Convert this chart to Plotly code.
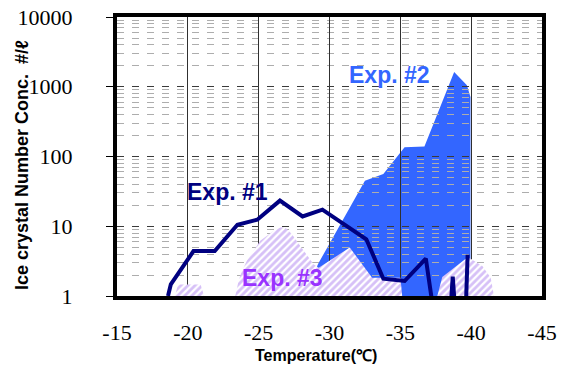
import plotly.graph_objects as go

# Temperature (deg C) and ice crystal number concentration (#/L)
temp_exp1 = [-18.6, -18.8, -20.4, -21.9, -23.5, -24.9, -26.5, -28.1, -29.5, -32.6,
             -33.8, -35.3, -36.8, -37.4, -38.5, -38.7, -38.9, -39.6, -39.75]
conc_exp1 = [1.0, 1.47, 4.4, 4.4, 10.5, 12.4, 23.3, 13.8, 17.3, 6.5,
             1.77, 1.64, 3.44, 0.5, 0.5, 1.9, 0.5, 0.5, 3.9]

temp_exp2 = [-28.2, -29.2, -32.5, -33.8, -35.3, -36.7, -38.8, -39.5, -39.7, -39.95, -39.95]
conc_exp2 = [1.0, 2.9, 45, 56, 136, 139, 1630, 1170, 1050, 713, 1.0]

# three separate bursts, separated by gaps
temp_exp3 = [-19.1, -19.3, -20.9, -21.15, None,
             -23.35, -23.58, -23.82, -24.17, -24.64, -25.11, -25.59, -26.05, -26.53,
             -26.85, -27.11, -27.35, -27.94, -28.42, -28.88, -29.24, -31.43, -33.01,
             -35.01, -35.13, None,
             -37.61, -37.96, -39.73, -39.96, -40.79, -41.38, -41.61]
conc_exp3 = [1.0, 1.46, 1.46, 1.0, None,
             1.0, 1.64, 2.29, 3.19, 4.44, 6.2, 7.3, 8.6, 9.6,
             9.7, 8.6, 7.7, 5.2, 3.76, 2.86, 2.55, 4.95, 1.83,
             1.83, 1.0, None,
             1.0, 1.88, 3.56, 3.41, 2.7, 1.83, 1.0]

x_ticks = [-15, -20, -25, -30, -35, -40, -45]
x_ticktext = ["-15", "-20", "-25", "-30", "-35", "-40", "-45"]
y_ticks = [1, 10, 100, 1000, 10000]
y_ticktext = ["1", "10", "100", "1000", "10000"]

BLUE = "#3366FF"
NAVY = "#000080"
PURPLE = "#9933FF"
HATCH = "#AE82F0"
DASH = "7px,8px"
SERIF = "Liberation Serif, DejaVu Serif"
SANS = "Liberation Sans"

fig = go.Figure()

# Exp. #2 solid area on the lower subplot (beneath the grid)
fig.add_trace(go.Scatter(
    x=temp_exp2, y=conc_exp2, mode="lines", fill="toself",
    fillcolor=BLUE, line=dict(width=0, color=BLUE),
    xaxis="x", yaxis="y", hoverinfo="skip", showlegend=False))

# Exp. #3 hatched area
fig.add_trace(go.Scatter(
    x=temp_exp3, y=conc_exp3, mode="lines", fill="toself",
    fillcolor="white", line=dict(width=0, color=HATCH),
    fillpattern=dict(shape="/", fgcolor=HATCH, bgcolor="white",
                     size=5, solidity=0.55),
    xaxis="x2", yaxis="y2", hoverinfo="skip", showlegend=False))

# Exp. #1 line
fig.add_trace(go.Scatter(
    x=temp_exp1, y=conc_exp1, mode="lines",
    line=dict(color=NAVY, width=4),
    xaxis="x2", yaxis="y2", hoverinfo="skip", showlegend=False))

tick_font = dict(family=SERIF, size=22, color="black")

fig.update_layout(
    width=565, height=367,
    margin=dict(l=117, r=23, t=17, b=71, autoexpand=False),
    paper_bgcolor="white",
    plot_bgcolor="rgba(0,0,0,0)",
    showlegend=False,
    xaxis=dict(domain=[0, 1], anchor="y", range=[-15, -45], visible=False,
               automargin=False),
    yaxis=dict(domain=[0, 1], anchor="x", type="log", range=[0, 4], visible=False,
               automargin=False),
    xaxis2=dict(
        domain=[0, 1], anchor="y2", range=[-15, -45], automargin=False,
        tickvals=x_ticks, ticktext=x_ticktext, ticks="", tickfont=tick_font,
        ticklabelstandoff=14,
        showgrid=True, gridcolor="#303030", gridwidth=1,
        showline=True, mirror=True, linewidth=4, linecolor="black",
        zeroline=False),
    yaxis2=dict(
        domain=[0, 1], anchor="x2", type="log", range=[0, 4], automargin=False,
        tickvals=y_ticks, ticktext=y_ticktext, tickfont=tick_font,
        ticks="outside", ticklen=7, tickwidth=1, tickcolor="black",
        ticklabelstandoff=29,
        showgrid=True, gridcolor="#3a3a3a", gridwidth=1, griddash=DASH,
        minor=dict(dtick="D1", showgrid=True, gridcolor="#adadad",
                   griddash=DASH, gridwidth=1, ticks=""),
        showline=True, mirror=True, linewidth=4, linecolor="black",
        zeroline=False),
)


def px_x(px):
    return (px - 117) / 425.0


def px_y(py):
    return (296 - py) / 279.0


annotations = [
    dict(text="<b>Exp. #1</b>", x=px_x(227), y=px_y(192),
         font=dict(family=SANS, size=23, color=NAVY)),
    dict(text="<b>Exp. #2</b>", x=px_x(389), y=px_y(75),
         font=dict(family=SANS, size=23, color=BLUE)),
    dict(text="<b>Exp. #3</b>", x=px_x(282), y=px_y(278),
         font=dict(family=SANS, size=23, color=PURPLE)),
    dict(text="<b>Temperature(℃)</b>", x=px_x(316), y=px_y(355),
         font=dict(family=SANS, size=16, color="black")),
    dict(text="<b>Ice crystal Number Conc.  #/ℓ</b>", x=px_x(22), y=px_y(165),
         textangle=-90,
         font=dict(family=SANS, size=18, color="black")),
]
for a in annotations:
    a.update(xref="paper", yref="paper", showarrow=False,
             xanchor="center", yanchor="middle")
fig.update_layout(annotations=annotations)

fig.write_html("out.html")
